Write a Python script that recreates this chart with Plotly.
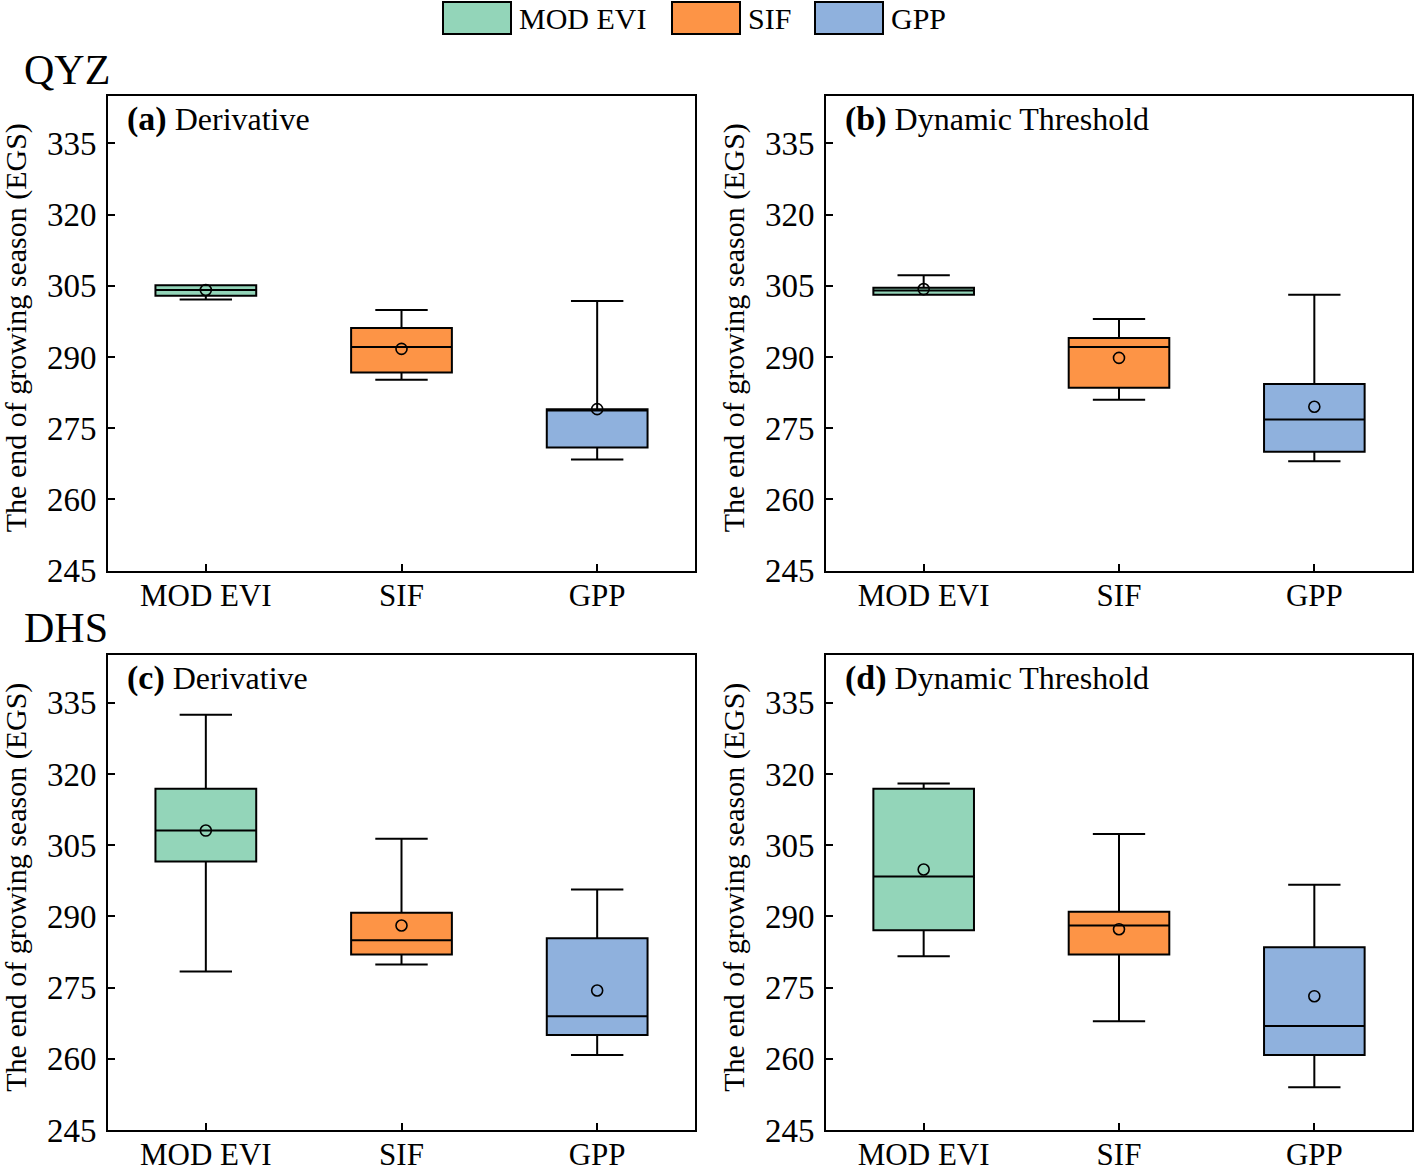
import plotly.graph_objects as go

# the photographed area is a little taller than the nominal window and is
# squeezed back to 1167 px, so the figure is drawn slightly taller
REF_W, REF_H = 1414, 1167
W, H = 1414, 1185
FONT = "Liberation Serif"

categories = ["MOD EVI", "SIF", "GPP"]
colors = ["#93d5b9", "#fd9446", "#8fb1dd"]

# Panel (a) QYZ Derivative
a_lower = [302.1, 285.2, 268.4]
a_q1 = [302.9, 286.7, 270.9]
a_median = [304.1, 292.1, 278.7]
a_q3 = [305.1, 296.1, 279.0]
a_upper = [305.1, 299.9, 301.8]
a_mean = [304.1, 291.7, 279.0]

# Panel (b) QYZ Dynamic Threshold
b_lower = [303.1, 281.0, 268.0]
b_q1 = [303.1, 283.5, 270.0]
b_median = [304.0, 292.1, 276.8]
b_q3 = [304.6, 294.0, 284.3]
b_upper = [307.2, 298.0, 303.1]
b_mean = [304.3, 289.8, 279.5]

# Panel (c) DHS Derivative
c_lower = [278.4, 279.9, 260.8]
c_q1 = [301.6, 282.0, 265.0]
c_median = [308.1, 285.0, 269.0]
c_q3 = [316.9, 290.8, 285.4]
c_upper = [332.5, 306.4, 295.7]
c_mean = [308.1, 288.1, 274.4]

# Panel (d) DHS Dynamic Threshold
d_lower = [281.6, 267.9, 254.0]
d_q1 = [287.1, 282.0, 260.8]
d_median = [298.4, 288.1, 266.9]
d_q3 = [316.9, 291.0, 283.5]
d_upper = [318.0, 307.4, 296.7]
d_mean = [299.9, 287.3, 273.2]

y_ticks = [245, 260, 275, 290, 305, 320, 335]

panels = [
    ("(a)", "Derivative", a_lower, a_q1, a_median, a_q3, a_upper, a_mean),
    ("(b)", "Dynamic Threshold", b_lower, b_q1, b_median, b_q3, b_upper, b_mean),
    ("(c)", "Derivative", c_lower, c_q1, c_median, c_q3, c_upper, c_mean),
    ("(d)", "Dynamic Threshold", d_lower, d_q1, d_median, d_q3, d_upper, d_mean),
]

def px_x(x):
    return min(max(x / REF_W, 0.0), 1.0)

def px_y(y):
    return min(max(1 - y / REF_H, 0.0), 1.0)

# reference-pixel boxes of the plot areas: (x0, x1, ytop, ybottom)
areas = [(108, 695, 96, 571), (826, 1412, 96, 571),
         (108, 695, 656, 1131), (826, 1412, 656, 1131)]

fig = go.Figure()
layout = dict(
    width=W, height=H, autosize=False,
    margin=dict(l=0, r=0, t=0, b=0),
    paper_bgcolor="white", plot_bgcolor="white",
    showlegend=False, boxmode="overlay",
    font=dict(family=FONT, size=30, color="black"),
)
annotations = []
shapes = []

for i, (lab, name, lo, q1, med, q3, up, mn) in enumerate(panels):
    k = "" if i == 0 else str(i + 1)
    xa, ya = "x" + k, "y" + k
    for j, cat in enumerate(categories):
        fig.add_trace(go.Box(
            x=[cat], lowerfence=[lo[j]], q1=[q1[j]], median=[med[j]],
            q3=[q3[j]], upperfence=[up[j]], name=cat,
            fillcolor=colors[j], line=dict(color="black", width=2),
            width=0.515, whiskerwidth=0.52, boxpoints=False,
            xaxis=xa, yaxis=ya, hoverinfo="skip",
        ))
    fig.add_trace(go.Scatter(
        x=categories, y=mn, mode="markers",
        marker=dict(symbol="circle-open", size=11, color="black",
                    line=dict(width=1.6, color="black")),
        xaxis=xa, yaxis=ya, hoverinfo="skip",
    ))
    x0, x1, yt, yb = areas[i]
    axis_common = dict(showline=True, linecolor="black", linewidth=2, mirror=True,
                       ticks="inside", ticklen=7, tickwidth=1.6, tickcolor="black",
                       showgrid=False, zeroline=False)
    layout["xaxis" + k] = dict(axis_common, domain=[px_x(x0), px_x(x1)],
                               type="category", categoryorder="array",
                               categoryarray=categories, range=[-0.5, 2.5],
                               anchor=ya, ticklabelstandoff=-4,
                               tickfont=dict(family=FONT, size=31, color="black"))
    layout["yaxis" + k] = dict(axis_common, domain=[px_y(yb), px_y(yt)],
                               range=[245, 345], tickvals=y_ticks, anchor=xa,
                               ticklabelstandoff=3,
                               tickfont=dict(family=FONT, size=33, color="black"))
    # panel label
    annotations.append(dict(
        xref="paper", yref="paper", x=px_x(x0 + 17), y=px_y(yt + 23),
        xanchor="left", yanchor="middle", showarrow=False,
        text="<b><span style='font-size:34px'>" + lab + "</span></b> " + name,
        font=dict(family=FONT, size=32, color="black")))
    # y axis title
    annotations.append(dict(
        xref="paper", yref="paper", x=px_x(x0 - 92), y=px_y((yt + yb) / 2 - 5),
        xanchor="center", yanchor="middle", showarrow=False, textangle=-90,
        text="The end of growing season (EGS)", borderpad=0,
        font=dict(family=FONT, size=30, color="black")))

# site labels
for txt, yc in [("QYZ", 70), ("DHS", 629)]:
    annotations.append(dict(
        xref="paper", yref="paper", x=px_x(22), y=px_y(yc),
        xanchor="left", yanchor="middle", showarrow=False, text=txt,
        font=dict(family=FONT, size=42, color="black")))

# legend
leg = [(443, 511, "MOD EVI"), (672, 740, "SIF"), (815, 883, "GPP")]
for j, (lx0, lx1, txt) in enumerate(leg):
    shapes.append(dict(type="rect", xref="paper", yref="paper",
                       x0=px_x(lx0), x1=px_x(lx1), y0=px_y(34), y1=px_y(2),
                       fillcolor=colors[j], line=dict(color="black", width=2)))
    annotations.append(dict(
        xref="paper", yref="paper", x=px_x(lx1 + 7), y=px_y(19),
        xanchor="left", yanchor="middle", showarrow=False, text=txt,
        borderpad=0, font=dict(family=FONT, size=30, color="black")))

layout["annotations"] = annotations
layout["shapes"] = shapes
fig.update_layout(**layout)
fig.write_html("out.html", config={"displayModeBar": False},
               post_script="document.body.style.margin='0';"
                           "document.body.style.overflow='hidden';")
